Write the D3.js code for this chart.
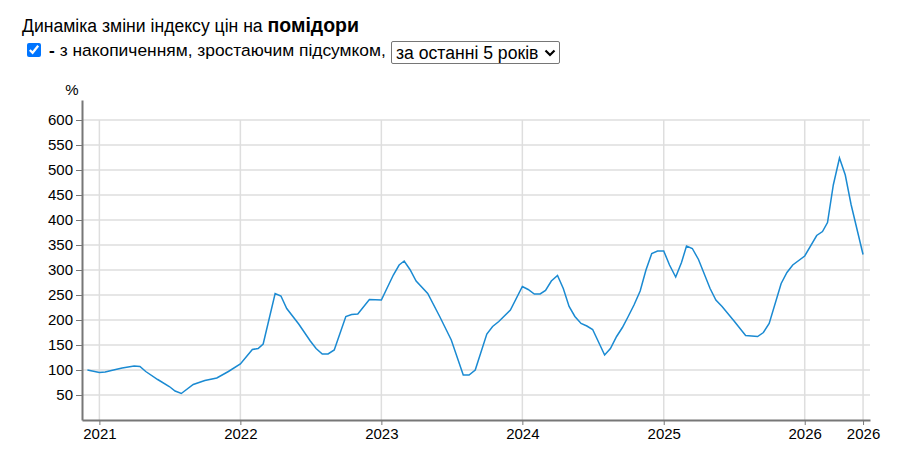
<!DOCTYPE html>
<html>
<head>
<meta charset="utf-8">
<script src="https://cdn.jsdelivr.net/npm/d3@7"></script>
<style>
  body { margin: 0; background: #fff; font-family: Arial, "Liberation Sans", sans-serif; }
  #title { position: absolute; left: 22px; top: 16px; font-size: 17.6px; line-height: 19px; white-space: nowrap; color: #000; }
  #title b { font-size: 19.5px; }
  #cb { position: absolute; left: 27px; top: 43px; width: 14px; height: 14px; margin: 0; }
  #lbl { position: absolute; left: 49px; top: 41px; font-size: 17.4px; line-height: 19px; white-space: nowrap; }
  #period {
    position: absolute; left: 391px; top: 41px; width: 169px; height: 23px;
    font-size: 17.6px; font-family: Arial, "Liberation Sans", sans-serif; color: #000;
    -webkit-appearance: none; appearance: none; background-color: #fff;
    border: 1px solid #767676; border-radius: 2px; padding: 0 0 0 4px; margin: 0;
    background-image: url("data:image/svg+xml;utf8,<svg xmlns='http://www.w3.org/2000/svg' width='12' height='8'><path d='M1.5 1.5 L6 6 L10.5 1.5' fill='none' stroke='black' stroke-width='2.2'/></svg>");
    background-repeat: no-repeat; background-position: right 3px center;
  }
  #chart { position: absolute; left: 0; top: 0; }
  .axis text { font-family: Arial, "Liberation Sans", sans-serif; font-size: 15px; fill: #000; }
  .axis path, .axis line { stroke: #777; }
  .grid line { stroke: #dedede; stroke-width: 1.5; }
</style>
</head>
<body>
<div id="title">Динаміка зміни індексу цін на <b>помідори</b></div>
<input type="checkbox" id="cb" checked>
<div id="lbl"><b>-</b> з накопиченням, зростаючим підсумком,</div>
<select id="period"><option>за останні 5 років</option></select>
<svg id="chart" width="911" height="469"></svg>
<script>
// cumulative price index, %
var dates = [
  '2020-12-01', '2021-01-01', '2021-01-16', '2021-02-01', '2021-03-01', '2021-04-01', '2021-04-16',
  '2021-05-01', '2021-06-01', '2021-07-01', '2021-07-16', '2021-08-01', '2021-09-01', '2021-10-01',
  '2021-11-01', '2021-12-01', '2022-01-01', '2022-02-01', '2022-02-16', '2022-03-01', '2022-04-01',
  '2022-04-16', '2022-05-01', '2022-06-01', '2022-07-01', '2022-07-16', '2022-08-01', '2022-08-16',
  '2022-09-01', '2022-10-01', '2022-10-16', '2022-11-01', '2022-12-01', '2023-01-01', '2023-02-01',
  '2023-02-16', '2023-03-01', '2023-03-16', '2023-04-01', '2023-05-01', '2023-06-01', '2023-07-01',
  '2023-08-01', '2023-08-16', '2023-09-01', '2023-10-01', '2023-10-16', '2023-11-01', '2023-12-01',
  '2024-01-01', '2024-01-16', '2024-02-01', '2024-02-16', '2024-03-01', '2024-03-16', '2024-04-01',
  '2024-04-16', '2024-05-01', '2024-05-16', '2024-06-01', '2024-06-16', '2024-07-01', '2024-08-01',
  '2024-08-16', '2024-09-01', '2024-09-16', '2024-10-01', '2024-10-16', '2024-11-01', '2024-11-16',
  '2024-12-01', '2024-12-16', '2025-01-01', '2025-01-16', '2025-02-01', '2025-02-16', '2025-03-01',
  '2025-03-16', '2025-04-01', '2025-05-01', '2025-05-16', '2025-06-01', '2025-07-01', '2025-08-01',
  '2025-09-01', '2025-09-16', '2025-10-01', '2025-11-01', '2025-11-16', '2025-12-01', '2026-01-01',
  '2026-02-01', '2026-02-16', '2026-03-01', '2026-03-16', '2026-04-01', '2026-04-16', '2026-05-01',
  '2026-06-01'
];
var values = [
  100, 95, 96, 99, 104, 108, 107,
  97, 81, 67, 58, 53, 71, 79,
  84, 97, 112, 141, 143, 152, 253,
  248, 223, 192, 158, 143, 132, 132,
  140, 207, 211, 212, 241, 240, 290,
  310, 318, 301, 278, 253, 207, 160,
  90, 90, 100, 172, 187, 197, 220,
  267, 261, 252, 252, 259, 278, 289,
  263, 227, 207, 193, 188, 181, 130,
  143, 167, 185, 207, 230, 258, 300,
  333, 338, 338, 310, 286, 315, 348,
  343, 321, 263, 240, 227, 199, 169,
  167, 175, 193, 273, 295, 310, 328,
  369, 377, 395, 470, 524, 490, 431,
  331
];
var yTicks = [50, 100, 150, 200, 250, 300, 350, 400, 450, 500, 550, 600];
var xTicks = ['2021-01-01', '2022-01-01', '2023-01-01', '2024-01-01', '2025-01-01', '2026-01-01', '2026-06-01'];

var parse = d3.utcParse('%Y-%m-%d');
var data = dates.map(function(d, i) { return { date: parse(d), value: values[i] }; });
var xTickDates = xTicks.map(parse);

var margin = { left: 82, right: 41, top: 100, bottom: 49 };
var width = 911 - margin.left - margin.right,
    height = 469 - margin.top - margin.bottom;

var x = d3.scaleUtc()
    .domain([parse('2020-11-17'), parse('2026-06-19')])
    .range([0, width]);
var y = d3.scaleLinear().domain([0, 640]).range([height, 0]);

var svg = d3.select('#chart').append('g')
    .attr('transform', 'translate(' + margin.left + ',' + margin.top + ')');

// grid
svg.append('g').attr('class', 'grid')
    .selectAll('line.h').data(yTicks).enter().append('line')
    .attr('x1', 0).attr('x2', width)
    .attr('y1', function(d) { return y(d); })
    .attr('y2', function(d) { return y(d); });
svg.append('g').attr('class', 'grid')
    .selectAll('line.v').data(xTickDates).enter().append('line')
    .attr('x1', function(d) { return x(d); })
    .attr('x2', function(d) { return x(d); })
    .attr('y1', y(600)).attr('y2', height);

var xAxis = d3.axisBottom(x)
    .tickValues(xTickDates)
    .tickFormat(d3.utcFormat('%Y'))
    .tickSizeOuter(0)
    .tickSizeInner(5);
var yAxis = d3.axisLeft(y)
    .tickValues(yTicks)
    .tickSizeOuter(0)
    .tickSizeInner(6);

svg.append('g').attr('class', 'axis')
    .attr('transform', 'translate(0,' + height + ')')
    .call(xAxis);
svg.append('g').attr('class', 'axis')
    .call(yAxis);
svg.selectAll('.axis .domain').attr('stroke-width', 2);

svg.append('text')
    .attr('x', -10).attr('y', -5)
    .attr('text-anchor', 'middle')
    .style('font-family', 'Arial, "Liberation Sans", sans-serif')
    .style('font-size', '15px')
    .text('%');

var line = d3.line()
    .x(function(d) { return x(d.date); })
    .y(function(d) { return y(d.value); });

svg.append('path')
    .datum(data)
    .attr('fill', 'none')
    .attr('stroke', '#1a8ad2')
    .attr('stroke-width', 1.5)
    .attr('d', line);
</script>
</body>
</html>
